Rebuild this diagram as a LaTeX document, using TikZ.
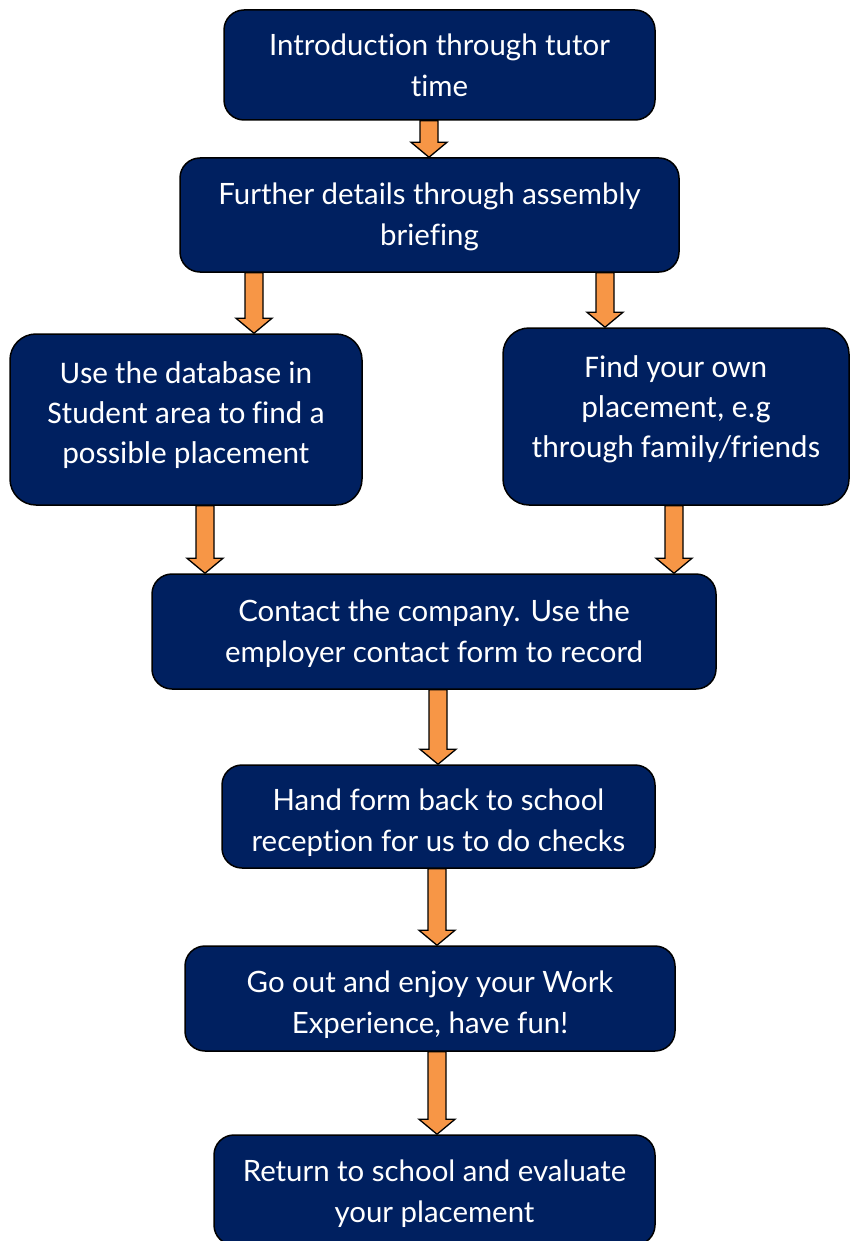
\documentclass[tikz,border=0pt]{standalone}
\usepackage{fontspec}
\usepackage{tikz}
\usetikzlibrary{calc,
                positioning}
\newfontfamily\lato[Ligatures=NoCommon]{Lato}
\newfontfamily\carlito[Ligatures=NoCommon]{Carlito}
\definecolor{navy}{HTML}{002060}
\definecolor{orangearrow}{HTML}{F79646}
\tikzset{
        stepbox/.style={draw=black, line width=1.5pt, fill=navy, text=white,
        rounded corners=20pt, align=center, inner sep=0pt,
        font=\lato\fontsize{29.4}{41}\selectfont},
        sidebox/.style={stepbox, rounded corners=26pt,
        font=\carlito\fontsize{31.5}{40}\selectfont},
        flowarrow/.style={draw=black, line width=1.3pt, fill=orangearrow,
        line join=miter},
 }
% move the text inside a box, keep the box size
\newcommand{\lift}[2]{\raisebox{#1}[\height][\depth]{#2}}
% block arrow: x position, upper node, lower node
\newcommand{\blockarrow}[3]{%
    \path[flowarrow] let \p1=(#2.south), \p2=(#3.north) in
        (#1pt-9pt,\y1) -- (#1pt+9pt,\y1) -- (#1pt+9pt,\y2+15pt)
        -- (#1pt+18pt,\y2+15pt) -- (#1pt,\y2) -- (#1pt-18pt,\y2+15pt)
        -- (#1pt-9pt,\y2+15pt) -- cycle;}

\begin{document}
\begin{tikzpicture}[x=1pt, y=-1pt]
    \useasboundingbox (0,0) rectangle (851,1241);

    \node[stepbox, minimum width=431, minimum height=110] (intro)
        at (439.5,65)
    {\lift{-3pt}{\begin{tabular}{c}
        Introduction through tutor\\
        time\\
    \end{tabular}}};

    \node[stepbox, minimum width=499, minimum height=114] (assembly)
        at (429.5,215)
    {\lift{-2pt}{\begin{tabular}{c}
        Further details through assembly\\
        briefing\\
    \end{tabular}}};

    \node[sidebox, minimum width=352, minimum height=171] (database)
        at (186,419.5)
    {\lift{4pt}{\begin{tabular}{c}
        Use the database in\\
        Student area to find a\\
        possible placement\\
    \end{tabular}}};

    \node[sidebox, minimum width=346, minimum height=177] (ownplace)
        at (676,416.5)
    {\lift{7pt}{\begin{tabular}{c}
        Find your own\\
        placement, e.g\\
        through family/friends\\
    \end{tabular}}};

    \node[stepbox, minimum width=564, minimum height=115] (contact)
        at (434,631.5)
    {\lift{-2pt}{\begin{tabular}{c}
        Contact the company. Use the\\
        employer contact form to record\\
    \end{tabular}}};

    \node[stepbox, minimum width=433, minimum height=103] (handback)
        at (438.5,816.5)
    {\lift{-6pt}{\begin{tabular}{c}
        Hand form back to school\\
        reception for us to do checks\\
    \end{tabular}}};

    \node[stepbox, minimum width=490, minimum height=105] (goout)
        at (430,998.5)
    {\lift{-6pt}{\begin{tabular}{c}
        Go out and enjoy your Work\\
        Experience, have fun!\\
    \end{tabular}}};

    \node[stepbox, minimum width=441, minimum height=110] (evaluate)
        at (434.5,1190)
    {\lift{-4pt}{\begin{tabular}{c}
        Return to school and evaluate\\
        your placement\\
    \end{tabular}}};

    \blockarrow{429}{intro}{assembly}
    \blockarrow{254}{assembly}{database}
    \blockarrow{605}{assembly}{ownplace}
    \blockarrow{205}{database}{contact}
    \blockarrow{674}{ownplace}{contact}
    \blockarrow{438}{contact}{handback}
    \blockarrow{437}{handback}{goout}
    \blockarrow{437}{goout}{evaluate}

\end{tikzpicture}
\end{document}
